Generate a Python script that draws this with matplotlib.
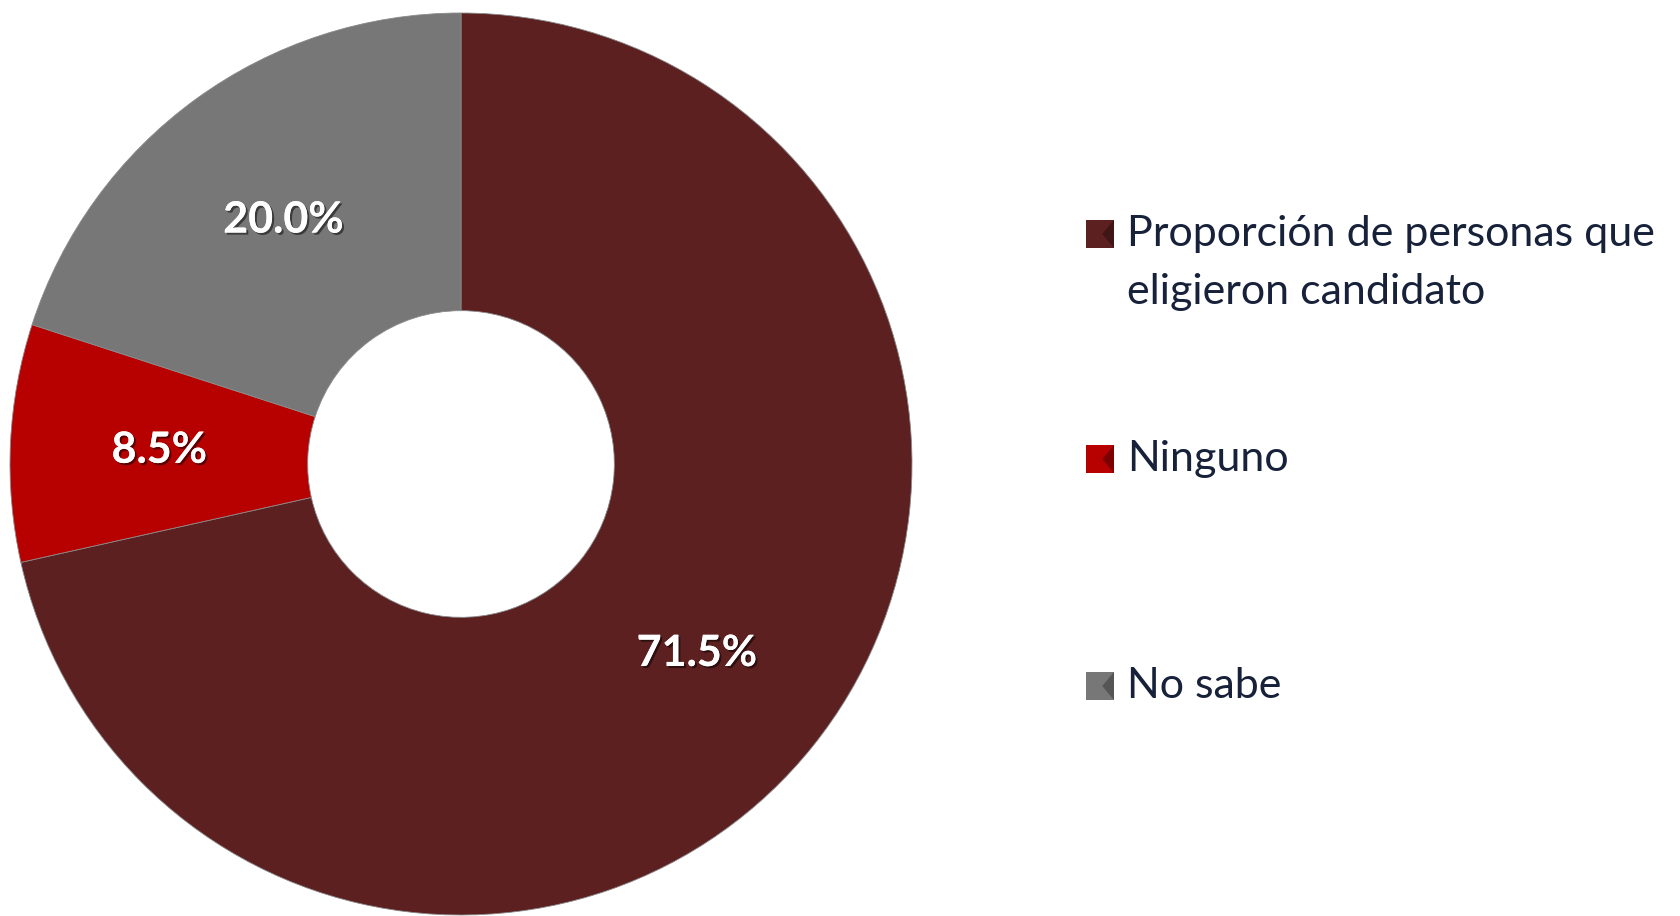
import matplotlib
matplotlib.use("Agg")
import matplotlib.pyplot as plt
import matplotlib.patheffects as pe
from matplotlib.patches import Rectangle, Polygon

# Data
labels = ["Proporción de personas que\neligieron candidato", "Ninguno", "No sabe"]
values = [71.5, 8.5, 20.0]
colors = ["#5C2021", "#B70000", "#777777"]
bevel = ["#401516", "#7d0000", "#555555"]

plt.rcParams["font.family"] = ["Lato", "DejaVu Sans"]

fig = plt.figure(figsize=(16.81, 9.16), dpi=100)
fig.patch.set_facecolor("white")

# donut axes: centre ~ (461, 464) px, outer radius ~451 px
W, H = 1681, 916
cx, cy, r = 461, 464, 451
ax = fig.add_axes([(cx - r) / W, (H - cy - r) / H, 2 * r / W, 2 * r / H])

wedges, texts, autotexts = ax.pie(
    values,
    colors=colors,
    startangle=90,
    counterclock=False,
    radius=1.0,
    wedgeprops=dict(width=0.66, edgecolor="#8a8a8a", linewidth=0.6),
    autopct="%1.1f%%",
    pctdistance=0.67,
    textprops=dict(color="white", fontsize=31, fontweight="bold"),
)
for t in autotexts:
    t.set_path_effects([
        pe.withSimplePatchShadow(offset=(1.5, -1.5), shadow_rgbFace="black", alpha=0.5),
        pe.Normal(),
    ])

ax.set_xlim(-1, 1)
ax.set_ylim(-1, 1)
ax.set_aspect("equal")
ax.axis("off")

# Legend drawn by hand to match the wide spacing
sq = 28
sq_x = 1086
text_x = 1127
line_gap = 58
rows_y = [234, 459, 686]  # first-line centres in px from top
for lab, col, bcol, yc in zip(labels, colors, bevel, rows_y):
    x0, y0 = sq_x / W, (H - yc - sq / 2) / H
    w, h = sq / W, sq / H
    fig.add_artist(Rectangle((x0, y0), w, h, transform=fig.transFigure,
                             facecolor=col, edgecolor="none"))
    # small bevel on the right side of the key
    fig.add_artist(Polygon([(x0 + w, y0), (x0 + w * 0.58, y0 + h * 0.5), (x0 + w, y0 + h)],
                           closed=True, transform=fig.transFigure,
                           facecolor=bcol, edgecolor="none"))
    for i, line in enumerate(lab.split("\n")):
        fig.text(text_x / W, (H - yc - i * line_gap) / H, line, fontsize=31,
                 color="#17223A", va="center", ha="left")

plt.savefig("out.png", dpi=100)
